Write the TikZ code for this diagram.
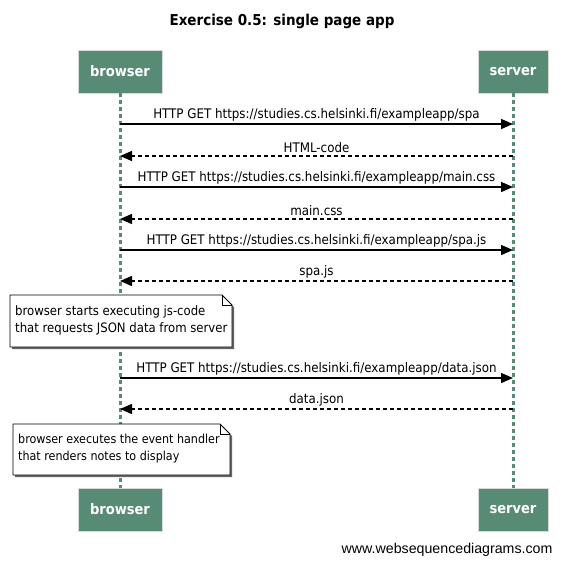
\documentclass[tikz,border=0pt]{standalone}
\usepackage{fontspec}
\setmainfont{DejaVu Sans Condensed}
\newfontfamily\footfont{Liberation Sans}
\usetikzlibrary{arrows.meta}
\definecolor{actorfill}{RGB}{88,139,116}
\definecolor{lifegreen}{RGB}{88,139,116}
\tikzset{
  actor/.style={draw=white!85!black, line width=0.6pt, fill=actorfill, minimum width=70pt, minimum height=43pt, inner sep=0pt,
    font=\fontsize{14.5}{17}\selectfont\bfseries, text=white},
  lifeline/.style={lifegreen, line width=3pt, dash pattern=on 4pt off 3pt},
  msg/.style={line width=1.4pt, -{Triangle[length=12pt,width=10pt]}},
  reply/.style={msg, dash pattern=on 4pt off 3pt},
  msglabel/.style={font=\fontsize{13.2}{15}\selectfont, inner sep=1pt, above=1.5pt},
  notetext/.style={align=left, anchor=north west, inner sep=0pt},
}
\begin{document}
\begin{tikzpicture}[x=1pt,y=-1pt]
\useasboundingbox (0,0) rectangle (564,565);
\fill[white] (0,0) rectangle (564,565);
\node[font=\fontsize{15}{18}\selectfont\bfseries] (title) at (282,21) {Exercise 0.5: single page app};

% actors
\node[actor, minimum width=84pt] (bt) at (120,71.5) {browser};
\node[actor] (st) at (513,71.5) {server};
\node[actor, minimum width=84pt] (bb) at (120,509.5) {browser};
\node[actor] (sb) at (513,509.5) {server};

\draw[lifeline] (bt.south) -- (bb.north);
\draw[lifeline] (st.south) -- (sb.north);

% message anchors
\foreach \i/\y in {1/124,2/156,3/187,4/219,5/250,6/281,7/378,8/409}{
  \coordinate (b\i) at (120,\y);
  \coordinate (s\i) at (513,\y);
}
\draw[msg] (b1) -- (s1) node[midway,msglabel] {HTTP GET https://studies.cs.helsinki.fi/exampleapp/spa};
\draw[reply] (s2) -- (b2) node[midway,msglabel] {HTML-code};
\draw[msg] (b3) -- (s3) node[midway,msglabel] {HTTP GET https://studies.cs.helsinki.fi/exampleapp/main.css};
\draw[reply] (s4) -- (b4) node[midway,msglabel] {main.css};
\draw[msg] (b5) -- (s5) node[midway,msglabel] {HTTP GET https://studies.cs.helsinki.fi/exampleapp/spa.js};
\draw[reply] (s6) -- (b6) node[midway,msglabel] {spa.js};
\draw[msg] (b7) -- (s7) node[midway,msglabel] {HTTP GET https://studies.cs.helsinki.fi/exampleapp/data.json};
\draw[reply] (s8) -- (b8) node[midway,msglabel] {data.json};

% note 1
\fill[black!60] (12,297) -- (224,297) -- (234,307) -- (234,349) -- (12,349) -- cycle;
\filldraw[fill=white, draw=black, line width=0.8pt] (10,295) -- (222,295) -- (232,305) -- (232,347) -- (10,347) -- cycle;
\draw[line width=0.6pt] (222,295) -- (222,305) -- (232,305);
\node[notetext, font=\fontsize{13}{17}\selectfont] (n1) at (15,305.5) {browser starts executing js-code\\that requests JSON data from server};

% note 2
\fill[black!60] (15,426) -- (222,426) -- (232,436) -- (232,477) -- (15,477) -- cycle;
\filldraw[fill=white, draw=black, line width=0.8pt] (13,424) -- (220,424) -- (230,434) -- (230,475) -- (13,475) -- cycle;
\draw[line width=0.6pt] (220,424) -- (220,434) -- (230,434);
\node[notetext, font=\fontsize{12.4}{17}\selectfont] (n2) at (18,434) {browser executes the event handler\\that renders notes to display};

\node[font=\footfont\fontsize{14.2}{16}\selectfont, anchor=east] (foot) at (556,550) {www.websequencediagrams.com};
\end{tikzpicture}
\end{document}
